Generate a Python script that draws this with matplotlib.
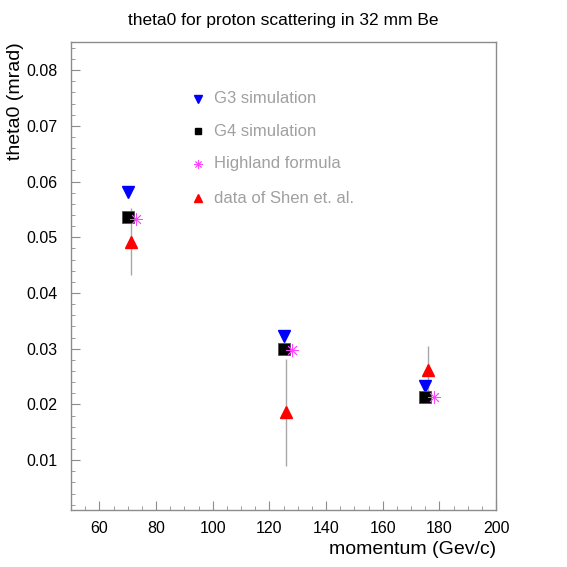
import matplotlib
matplotlib.use("Agg")
import matplotlib.pyplot as plt
from matplotlib.ticker import MultipleLocator, FixedLocator

plt.rcParams['font.family'] = ['Liberation Sans', 'DejaVu Sans']

# ---- data ----
g3_x = [70, 125, 175]
g3_y = [0.0582, 0.0322, 0.0233]

g4_x = [70, 125, 175]
g4_y = [0.0536, 0.0299, 0.0214]

hl_x = [73, 128, 178]
hl_y = [0.0533, 0.0298, 0.0213]

data_x = [71, 126, 176]
data_y = [0.0492, 0.0186, 0.0261]
data_err = [0.0060, 0.0096, 0.0044]

labels = ["G3 simulation", "G4 simulation", "Highland formula", "data of Shen et. al."]
x_ticks = [60, 80, 100, 120, 140, 160, 180, 200]
y_ticks = [0.01, 0.02, 0.03, 0.04, 0.05, 0.06, 0.07, 0.08]

# ---- figure ----
fig = plt.figure(figsize=(5.67, 5.67), dpi=100)
W = H = 567
l, r, t, b = 71, 496, 42.3, 510.3
ax = fig.add_axes([l / W, 1 - b / H, (r - l) / W, (b - t) / H])

ax.set_xlim(50, 200)
ax.set_ylim(0.001, 0.085)

axis_col = '#8c8c8c'
for s in ax.spines.values():
    s.set_color(axis_col)
    s.set_linewidth(1.0)

ax.xaxis.set_major_locator(FixedLocator(x_ticks))
ax.xaxis.set_minor_locator(MultipleLocator(5))
ax.yaxis.set_major_locator(FixedLocator(y_ticks))
ax.yaxis.set_minor_locator(MultipleLocator(0.002))
ax.set_xticklabels([str(v) for v in x_ticks])
ax.set_yticklabels([f"{v:.2f}" for v in y_ticks])
ax.tick_params(which='both', direction='in', color=axis_col, top=False, right=False)
ax.tick_params(which='major', length=6.3, labelsize=11.5)
ax.tick_params(axis='x', which='major', pad=8)
ax.tick_params(axis='y', which='major', pad=9.5)
ax.tick_params(which='minor', length=3.2)

# error bars of data
ax.errorbar(data_x, data_y, yerr=data_err, fmt='none', ecolor='#a8a8a8',
            elinewidth=1.0, capsize=0, zorder=1)

ms = 8
ax.plot(g3_x, g3_y, 'v', color='#0000ff', ms=ms, mec='#0000ff', zorder=3, linestyle='none')
ax.plot(g4_x, g4_y, 's', color='black', ms=ms, mec='#555555', mew=0.6, zorder=3, linestyle='none')
ax.plot(hl_x, hl_y, marker=(8, 2, 0), color='#ff44ff', ms=9, mew=0.6, zorder=4, linestyle='none')
ax.plot(data_x, data_y, '^', color='#ff0000', ms=ms, mec='#ff0000', zorder=3, linestyle='none')

# legend (manual)
leg_styles = [
    dict(marker='v', color='#0000ff', ms=5.5),
    dict(marker='s', color='black', ms=5),
    dict(marker=(8, 2, 0), color='#ff44ff', ms=6, mew=0.6),
    dict(marker='^', color='#ff0000', ms=5.5),
]
rows = [0.879, 0.810, 0.740, 0.667]
for st, lab, yy in zip(leg_styles, labels, rows):
    ax.plot([0.299], [yy], transform=ax.transAxes, linestyle='none', **st)
    ax.text(0.336, yy, lab, transform=ax.transAxes, va='center', ha='left',
            fontsize=12, color='#a0a0a0')

fig.text(0.5, 1 - 20 / H, "theta0 for proton scattering in 32 mm Be",
         ha='center', va='center', fontsize=12.5)
fig.text(r / W, 1 - 549 / H, "momentum (Gev/c)", ha='right', va='center', fontsize=14)
fig.text(16 / W, 1 - t / H, "theta0 (mrad)", ha='center', va='top', rotation=90, fontsize=14)

fig.savefig("out.png", dpi=100)
